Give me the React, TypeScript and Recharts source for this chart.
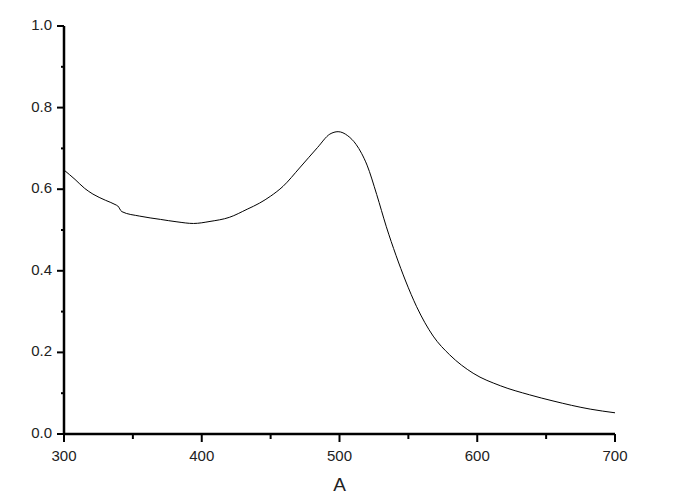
import { LineChart, Line, XAxis, YAxis } from "recharts";

const wavelength = [
  300, 308, 315, 321, 330, 338, 339, 342, 355, 370, 382, 394, 406, 420, 433,
  442, 450, 459, 471, 484, 493, 499, 506, 512, 516, 520, 527, 534, 541, 548,
  556, 568, 580, 597, 617, 638, 655, 682, 700,
];
const absorbance = [
  0.647, 0.624, 0.602, 0.588, 0.573, 0.561, 0.559, 0.545, 0.534, 0.526, 0.52,
  0.516, 0.521, 0.531, 0.551, 0.566, 0.583, 0.607, 0.652, 0.702, 0.735, 0.741,
  0.731, 0.71, 0.688, 0.659, 0.587, 0.508, 0.438, 0.375, 0.312, 0.24, 0.194,
  0.149, 0.118, 0.096, 0.081, 0.061, 0.052,
];

const xTicks = [300, 350, 400, 450, 500, 550, 600, 650, 700];
const yTicks = [0, 0.1, 0.2, 0.3, 0.4, 0.5, 0.6, 0.7, 0.8, 0.9, 1.0];
const xLabel = "A";

const data = wavelength.map((w, i) => ({ w, a: absorbance[i] }));

const FONT = "'Liberation Sans', Arial, sans-serif";

// x ticks: major every 100 with label, minor in between
const XTick = (props: any) => {
  const { x, y, payload } = props;
  const major = payload.value % 100 === 0;
  return (
    <g>
      <line x1={x} x2={x} y1={y} y2={y + (major ? 8 : 5)} stroke="#000" strokeWidth={2} />
      {major && (
        <text x={x} y={y + 27} textAnchor="middle" fontSize={15} fill="#222" fontFamily={FONT}>
          {payload.value}
        </text>
      )}
    </g>
  );
};

const YTick = (props: any) => {
  const { x, y, payload } = props;
  const major = Math.round(payload.value * 10) % 2 === 0;
  return (
    <g>
      <line x1={x} x2={x - (major ? 7 : 3)} y1={y} y2={y} stroke="#000" strokeWidth={2} />
      {major && (
        <text x={x - 12} y={y + 4} textAnchor="end" fontSize={15} fill="#222" fontFamily={FONT}>
          {payload.value.toFixed(1)}
        </text>
      )}
    </g>
  );
};

export default function App() {
  return (
    <div style={{ position: "absolute", left: 0, top: 0, background: "#fff" }}>
      <LineChart
        width={683}
        height={495}
        data={data}
        margin={{ top: 26, right: 68, bottom: 0, left: 0 }}
      >
        <XAxis
          dataKey="w"
          type="number"
          domain={[300, 700]}
          ticks={xTicks}
          interval={0}
          tickSize={0}
          tickMargin={0}
          tickLine={false}
          tick={XTick}
          height={61}
          axisLine={{ stroke: "#000", strokeWidth: 2.5 }}
          label={{
            value: xLabel,
            position: "insideBottom",
            offset: 4,
            fontSize: 19,
            fill: "#222",
            fontFamily: FONT,
          }}
        />
        <YAxis
          type="number"
          domain={[0, 1]}
          ticks={yTicks}
          interval={0}
          tickSize={0}
          tickMargin={0}
          tickLine={false}
          tick={YTick}
          width={64}
          axisLine={{ stroke: "#000", strokeWidth: 2.5 }}
        />
        <Line
          type="monotone"
          dataKey="a"
          stroke="#000"
          strokeWidth={1}
          dot={false}
          isAnimationActive={false}
        />
      </LineChart>
    </div>
  );
}
